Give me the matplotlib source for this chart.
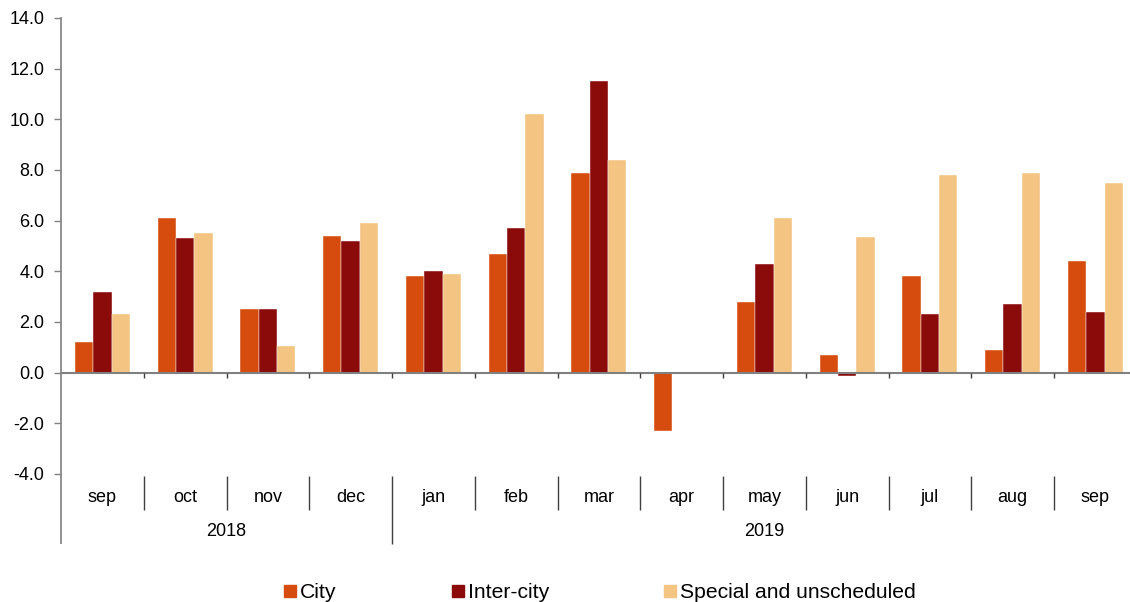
import numpy as np
import matplotlib
matplotlib.use("Agg")
import matplotlib.pyplot as plt
from matplotlib.patches import Patch

plt.rcParams["font.family"] = ["Liberation Sans", "DejaVu Sans"]

months = ["sep", "oct", "nov", "dec", "jan", "feb", "mar", "apr", "may", "jun", "jul", "aug", "sep"]
years = ["2018", "2019"]
year_spans = [(0, 3), (4, 12)]
series = ["City", "Inter-city", "Special and unscheduled"]
city = [1.2, 6.1, 2.5, 5.4, 3.8, 4.7, 7.9, -2.3, 2.8, 0.7, 3.8, 0.9, 4.4]
inter_city = [3.2, 5.3, 2.5, 5.2, 4.0, 5.7, 11.5, -0.05, 4.3, -0.15, 2.3, 2.7, 2.4]
special = [2.3, 5.5, 1.05, 5.9, 3.9, 10.2, 8.4, -0.05, 6.1, 5.35, 7.8, 7.9, 7.5]
colors = ["#D64C0F", "#8B0A0A", "#F4C482"]

W, H = 1130, 602
fig = plt.figure(figsize=(W / 100, H / 100), dpi=100)
ax = fig.add_axes([61 / W, 128 / H, 1075.75 / W, 456 / H])

x = np.arange(len(months))
bw = 0.222
for k, (vals, col) in enumerate(zip([city, inter_city, special], colors)):
    ax.bar(x + (k - 1) * bw, vals, bw, color=col, edgecolor="white", linewidth=0.3)

ax.set_xlim(-0.5, len(months) - 0.5)
ax.set_ylim(-4, 14)
ax.set_yticks(np.arange(-4, 15, 2))
ax.set_yticklabels([f"{v:.1f}" for v in np.arange(-4, 15, 2)], fontsize=13)
ax.tick_params(axis="y", direction="out", length=5, width=1, color="#808080", pad=7)
ax.set_xticks([])
for s in ["top", "right", "bottom"]:
    ax.spines[s].set_visible(False)
ax.spines["left"].set_color("#808080")
ax.spines["left"].set_linewidth(1.2)
ax.axhline(0, color="#808080", lw=1.5, zorder=3)

# small ticks under zero line
bounds = np.arange(0.5, len(months) - 0.5, 1)
ax.vlines(bounds, -0.2, 0, color="#404040", lw=1, zorder=3)

# category axis below the plot
tr = ax.get_xaxis_transform()
px = 1 / 456
ax.vlines([b for b in bounds if b != 3.5], -2 * px, -36 * px, transform=tr,
          color="#404040", lw=1, clip_on=False)
ax.vlines([3.5], -2 * px, -70 * px, transform=tr, color="#404040", lw=1, clip_on=False)
ax.vlines([-0.5], 0, -70 * px, transform=tr, color="#808080", lw=1.2, clip_on=False)
for i, m in enumerate(months):
    ax.text(i, -24 * px, m, transform=tr, ha="center", va="center", fontsize=13)
for yr, (a, b) in zip(years, year_spans):
    ax.text((a + b) / 2, -58 * px, yr, transform=tr, ha="center", va="center", fontsize=13)

# legend
lx = [284, 452, 664]
for name, col, xx in zip(series, colors, lx):
    fig.legend(handles=[Patch(color=col, label=name)], loc="center left",
               bbox_to_anchor=(xx / W, 1 - 593 / H), frameon=False, fontsize=15.2,
               handlelength=0.55, handleheight=0.55, handletextpad=0.2,
               borderpad=0, borderaxespad=0)

fig.savefig("out.png", dpi=100)
